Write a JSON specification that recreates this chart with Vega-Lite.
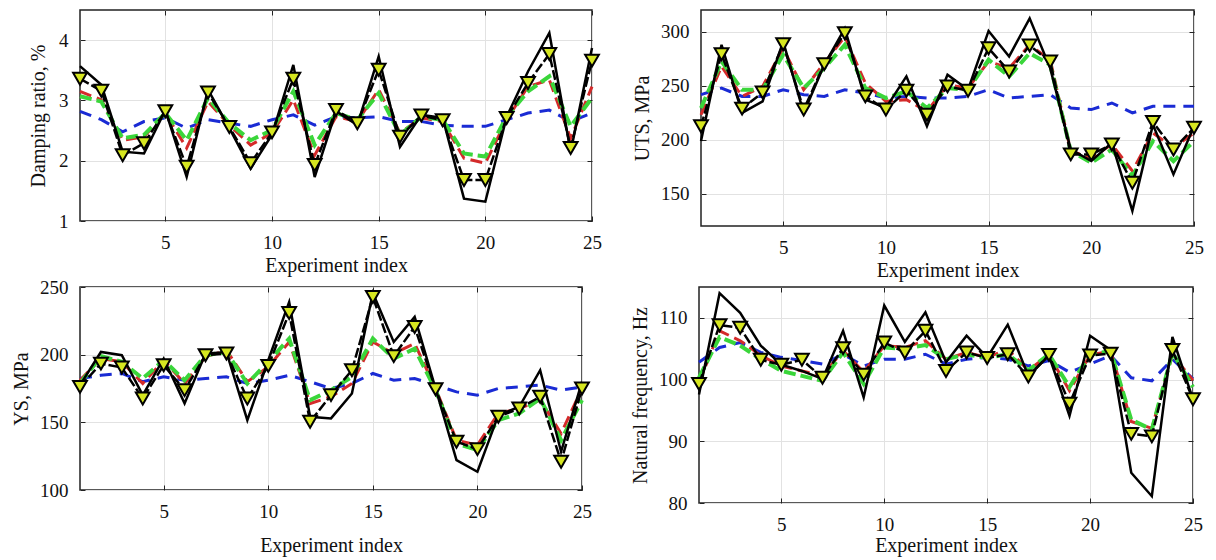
{
  "$schema": "https://vega.github.io/schema/vega-lite/v6.json",
  "padding": {"left": 10, "top": 8, "right": 5, "bottom": 5},
  "background": "white",
  "datasets": {
    "damping": [
      {"i":1,"solid":3.57,"tri":3.36,"red":3.15,"green":3.07,"blue":2.82},
      {"i":2,"solid":3.26,"tri":3.16,"red":3.01,"green":2.98,"blue":2.68},
      {"i":3,"solid":2.15,"tri":2.09,"red":2.34,"green":2.37,"blue":2.48},
      {"i":4,"solid":2.12,"tri":2.29,"red":2.40,"green":2.43,"blue":2.65},
      {"i":5,"solid":2.84,"tri":2.82,"red":2.79,"green":2.79,"blue":2.71},
      {"i":6,"solid":1.73,"tri":1.90,"red":2.21,"green":2.34,"blue":2.54},
      {"i":7,"solid":3.18,"tri":3.13,"red":2.98,"green":3.04,"blue":2.68},
      {"i":8,"solid":2.54,"tri":2.56,"red":2.59,"green":2.62,"blue":2.62},
      {"i":9,"solid":1.87,"tri":1.96,"red":2.26,"green":2.34,"blue":2.57},
      {"i":10,"solid":2.43,"tri":2.47,"red":2.46,"green":2.51,"blue":2.68},
      {"i":11,"solid":3.59,"tri":3.36,"red":3.01,"green":3.15,"blue":2.76},
      {"i":12,"solid":1.73,"tri":1.93,"red":2.09,"green":2.26,"blue":2.59},
      {"i":13,"solid":2.82,"tri":2.84,"red":2.73,"green":2.79,"blue":2.73},
      {"i":14,"solid":2.59,"tri":2.62,"red":2.65,"green":2.68,"blue":2.71},
      {"i":15,"solid":3.73,"tri":3.51,"red":3.18,"green":3.12,"blue":2.73},
      {"i":16,"solid":2.23,"tri":2.40,"red":2.46,"green":2.43,"blue":2.65},
      {"i":17,"solid":2.76,"tri":2.75,"red":2.71,"green":2.73,"blue":2.65},
      {"i":18,"solid":2.71,"tri":2.67,"red":2.65,"green":2.68,"blue":2.59},
      {"i":19,"solid":1.37,"tri":1.68,"red":2.04,"green":2.12,"blue":2.57},
      {"i":20,"solid":1.32,"tri":1.68,"red":1.96,"green":2.07,"blue":2.57},
      {"i":21,"solid":2.73,"tri":2.71,"red":2.68,"green":2.73,"blue":2.68},
      {"i":22,"solid":3.48,"tri":3.29,"red":3.23,"green":3.15,"blue":2.79},
      {"i":23,"solid":4.12,"tri":3.77,"red":3.34,"green":3.40,"blue":2.84},
      {"i":24,"solid":2.15,"tri":2.21,"red":2.37,"green":2.57,"blue":2.65},
      {"i":25,"solid":3.87,"tri":3.66,"red":3.23,"green":3.04,"blue":2.79}
    ],
    "uts": [
      {"i":1,"solid":198.6,"tri":212.4,"red":223,"green":229.3,"blue":241.6},
      {"i":2,"solid":287.7,"tri":279,"red":267.7,"green":272.3,"blue":247.7},
      {"i":3,"solid":224.7,"tri":228.7,"red":240,"green":246.2,"blue":240},
      {"i":4,"solid":235.4,"tri":243.7,"red":249.3,"green":246.2,"blue":240},
      {"i":5,"solid":290.8,"tri":288.3,"red":284.6,"green":278.5,"blue":246.2},
      {"i":6,"solid":224.7,"tri":227.8,"red":246.2,"green":247.7,"blue":241.6},
      {"i":7,"solid":269.3,"tri":269.9,"red":270.8,"green":266.2,"blue":240},
      {"i":8,"solid":303,"tri":298.5,"red":295.4,"green":287.7,"blue":246.2},
      {"i":9,"solid":237,"tri":240,"red":252.3,"green":247.7,"blue":243.1},
      {"i":10,"solid":229.3,"tri":227.8,"red":235.4,"green":238.5,"blue":238.5},
      {"i":11,"solid":258.5,"tri":245.3,"red":237,"green":244.7,"blue":240},
      {"i":12,"solid":212.4,"tri":223,"red":226.2,"green":229.3,"blue":238.5},
      {"i":13,"solid":260,"tri":249.3,"red":250.8,"green":247.7,"blue":238.5},
      {"i":14,"solid":246.2,"tri":245.3,"red":247.7,"green":246.2,"blue":240},
      {"i":15,"solid":300.6,"tri":284.6,"red":272.3,"green":273.9,"blue":246.2},
      {"i":16,"solid":277,"tri":263.1,"red":266.2,"green":258.5,"blue":238.5},
      {"i":17,"solid":312.3,"tri":287.1,"red":287.7,"green":280,"blue":240},
      {"i":18,"solid":266.2,"tri":272.3,"red":273.9,"green":269.3,"blue":241.6},
      {"i":19,"solid":190.9,"tri":186.3,"red":189.3,"green":189.3,"blue":229.3},
      {"i":20,"solid":180.1,"tri":186.3,"red":183.2,"green":178.6,"blue":227.8},
      {"i":21,"solid":197,"tri":195.5,"red":195.5,"green":190.9,"blue":233.9},
      {"i":22,"solid":134,"tri":160.1,"red":170.9,"green":166.3,"blue":224.7},
      {"i":23,"solid":213.9,"tri":216.4,"red":206.2,"green":198.6,"blue":230.8},
      {"i":24,"solid":167.8,"tri":190.9,"red":192.4,"green":180.1,"blue":230.8},
      {"i":25,"solid":212.4,"tri":210.9,"red":206.2,"green":198.6,"blue":230.8}
    ],
    "ys": [
      {"i":1,"solid":177.5,"tri":176.2,"red":181.1,"green":178.7,"blue":182.4},
      {"i":2,"solid":202,"tri":193.4,"red":197.1,"green":198.9,"blue":184.8},
      {"i":3,"solid":199.6,"tri":190.5,"red":194.7,"green":194.7,"blue":186.1},
      {"i":4,"solid":170.1,"tri":167.6,"red":178.7,"green":182.4,"blue":180},
      {"i":5,"solid":197.1,"tri":192.2,"red":195.9,"green":195.9,"blue":183.6},
      {"i":6,"solid":164,"tri":173.8,"red":178.7,"green":181.1,"blue":181.1},
      {"i":7,"solid":200.8,"tri":199.6,"red":198.4,"green":199.6,"blue":182.4},
      {"i":8,"solid":202,"tri":200.8,"red":203.3,"green":202,"blue":183.6},
      {"i":9,"solid":151.6,"tri":167.6,"red":180,"green":178.7,"blue":178.7},
      {"i":10,"solid":195.9,"tri":191.7,"red":191,"green":194.7,"blue":181.1},
      {"i":11,"solid":238.9,"tri":230.8,"red":209.4,"green":211.9,"blue":184.8},
      {"i":12,"solid":154.1,"tri":150.4,"red":163.9,"green":166.4,"blue":180},
      {"i":13,"solid":152.9,"tri":170.1,"red":168.9,"green":173.8,"blue":175},
      {"i":14,"solid":171.3,"tri":188.5,"red":178.7,"green":183.6,"blue":178.7},
      {"i":15,"solid":245.6,"tri":242.6,"red":209.4,"green":211.9,"blue":186.1},
      {"i":16,"solid":209.4,"tri":198.9,"red":200.8,"green":197.1,"blue":181.1},
      {"i":17,"solid":227.9,"tri":220.5,"red":208.2,"green":204.5,"blue":182.4},
      {"i":18,"solid":175,"tri":174.5,"red":175,"green":173.8,"blue":177.5},
      {"i":19,"solid":122.1,"tri":135.7,"red":136.9,"green":134.4,"blue":172.5},
      {"i":20,"solid":113.5,"tri":130.2,"red":133.2,"green":129.5,"blue":170.1},
      {"i":21,"solid":155.3,"tri":154.1,"red":156.6,"green":151.6,"blue":175},
      {"i":22,"solid":161.5,"tri":160.2,"red":160.2,"green":156.6,"blue":176.2},
      {"i":23,"solid":188.5,"tri":168.9,"red":166.4,"green":167.6,"blue":177.5},
      {"i":24,"solid":128.3,"tri":120.9,"red":141.8,"green":136.9,"blue":173.8},
      {"i":25,"solid":179.9,"tri":175,"red":175,"green":166.4,"blue":176.2}
    ],
    "nf": [
      {"i":1,"solid":97.6,"tri":99.3,"red":99.5,"green":100.3,"blue":102.8},
      {"i":2,"solid":114,"tri":108.8,"red":107.9,"green":106.9,"blue":105.2},
      {"i":3,"solid":110.8,"tri":108.4,"red":106.3,"green":105.5,"blue":106},
      {"i":4,"solid":105.5,"tri":103.2,"red":103.9,"green":103.3,"blue":104.4},
      {"i":5,"solid":102.4,"tri":102.4,"red":102.2,"green":101.4,"blue":103.6},
      {"i":6,"solid":101.4,"tri":103.2,"red":101.4,"green":100.6,"blue":103.1},
      {"i":7,"solid":100.1,"tri":100.3,"red":100.6,"green":99.8,"blue":102.5},
      {"i":8,"solid":107.9,"tri":105.1,"red":104.7,"green":104.4,"blue":104.1},
      {"i":9,"solid":97.1,"tri":100.8,"red":101.2,"green":99.3,"blue":102.2},
      {"i":10,"solid":112,"tri":106,"red":105.5,"green":105.2,"blue":103.3},
      {"i":11,"solid":106.1,"tri":104.4,"red":105.2,"green":105,"blue":103.3},
      {"i":12,"solid":110.9,"tri":107.9,"red":106.3,"green":105.6,"blue":104.1},
      {"i":13,"solid":102.8,"tri":101.4,"red":103.3,"green":103.3,"blue":102.5},
      {"i":14,"solid":107.1,"tri":104.4,"red":104.4,"green":104.1,"blue":103.3},
      {"i":15,"solid":103.6,"tri":103.5,"red":103.6,"green":103.5,"blue":103.6},
      {"i":16,"solid":108.9,"tri":104.1,"red":104.9,"green":104.1,"blue":103.3},
      {"i":17,"solid":100.6,"tri":100.5,"red":101.5,"green":101.5,"blue":102.2},
      {"i":18,"solid":103.9,"tri":104,"red":104,"green":104.1,"blue":103.1},
      {"i":19,"solid":94.1,"tri":96.1,"red":98.2,"green":98.8,"blue":101.2},
      {"i":20,"solid":107.1,"tri":103.9,"red":104,"green":104.1,"blue":102.5},
      {"i":21,"solid":104.8,"tri":104.2,"red":104.6,"green":104.6,"blue":103.9},
      {"i":22,"solid":84.9,"tri":91.2,"red":93.2,"green":93.5,"blue":100.3},
      {"i":23,"solid":81.1,"tri":90.8,"red":92.1,"green":91.9,"blue":99.8},
      {"i":24,"solid":106.9,"tri":104.8,"red":104,"green":104.4,"blue":103.3},
      {"i":25,"solid":96.8,"tri":96.8,"red":99.9,"green":98.8,"blue":100.1}
    ]
  },
  "vconcat": [
    {
      "hconcat": [
        {
          "width": 512, "height": 211,
          "data": {"name": "damping"},
          "resolve": {"axis": {"x": "independent", "y": "independent"}},
          "layer": [
            {"mark": {"type": "line", "color": "#1a2bd4", "strokeWidth": 3, "strokeDash": [12, 8]},
             "encoding": {
               "x": {"field": "i", "type": "quantitative", "scale": {"domain": [1, 25], "nice": false}, "axis": {"values": [5, 10, 15, 20, 25], "title": "Experiment index"}},
               "y": {"field": "blue", "type": "quantitative", "scale": {"domain": [1, 4.5], "nice": false, "zero": false}, "axis": {"values": [1, 2, 3, 4], "title": "Damping ratio, %", "titlePadding": 10}}}},
            {"mark": {"type": "line", "color": "#d42a2a", "strokeWidth": 3, "strokeDash": [12, 6]},
             "encoding": {
               "x": {"field": "i", "type": "quantitative", "axis": {"orient": "top", "values": [5, 10, 15, 20, 25], "labels": false, "title": null, "grid": false}},
               "y": {"field": "red", "type": "quantitative", "axis": {"orient": "right", "values": [1, 2, 3, 4], "labels": false, "title": null, "grid": false}}}},
            {"mark": {"type": "line", "color": "#3ad63a", "strokeWidth": 4, "strokeDash": [12, 5]},
             "encoding": {"x": {"field": "i", "type": "quantitative", "axis": null}, "y": {"field": "green", "type": "quantitative", "axis": null}}},
            {"mark": {"type": "line", "color": "#000000", "strokeWidth": 2.5},
             "encoding": {"x": {"field": "i", "type": "quantitative", "axis": null}, "y": {"field": "solid", "type": "quantitative", "axis": null}}},
            {"mark": {"type": "line", "color": "#000000", "strokeWidth": 2.5, "strokeDash": [10, 3]},
             "encoding": {"x": {"field": "i", "type": "quantitative", "axis": null}, "y": {"field": "tri", "type": "quantitative", "axis": null}}},
            {"mark": {"type": "point", "shape": "triangle-down", "filled": true, "fill": "#d6e620", "stroke": "#000000", "strokeWidth": 2, "size": 190, "opacity": 1},
             "encoding": {"x": {"field": "i", "type": "quantitative", "axis": null}, "y": {"field": "tri", "type": "quantitative", "axis": null}}}
          ]
        },
        {
          "width": 493, "height": 216,
          "data": {"name": "uts"},
          "resolve": {"axis": {"x": "independent", "y": "independent"}},
          "layer": [
            {"mark": {"type": "line", "color": "#1a2bd4", "strokeWidth": 3, "strokeDash": [12, 8]},
             "encoding": {
               "x": {"field": "i", "type": "quantitative", "scale": {"domain": [1, 25], "nice": false}, "axis": {"values": [5, 10, 15, 20, 25], "title": "Experiment index"}},
               "y": {"field": "blue", "type": "quantitative", "scale": {"domain": [120, 320], "nice": false, "zero": false}, "axis": {"values": [150, 200, 250, 300], "title": "UTS, MPa"}}}},
            {"mark": {"type": "line", "color": "#d42a2a", "strokeWidth": 3, "strokeDash": [12, 6]},
             "encoding": {
               "x": {"field": "i", "type": "quantitative", "axis": {"orient": "top", "values": [5, 10, 15, 20, 25], "labels": false, "title": null, "grid": false}},
               "y": {"field": "red", "type": "quantitative", "axis": {"orient": "right", "values": [150, 200, 250, 300], "labels": false, "title": null, "grid": false}}}},
            {"mark": {"type": "line", "color": "#3ad63a", "strokeWidth": 4, "strokeDash": [12, 5]},
             "encoding": {"x": {"field": "i", "type": "quantitative", "axis": null}, "y": {"field": "green", "type": "quantitative", "axis": null}}},
            {"mark": {"type": "line", "color": "#000000", "strokeWidth": 2.5},
             "encoding": {"x": {"field": "i", "type": "quantitative", "axis": null}, "y": {"field": "solid", "type": "quantitative", "axis": null}}},
            {"mark": {"type": "line", "color": "#000000", "strokeWidth": 2.5, "strokeDash": [10, 3]},
             "encoding": {"x": {"field": "i", "type": "quantitative", "axis": null}, "y": {"field": "tri", "type": "quantitative", "axis": null}}},
            {"mark": {"type": "point", "shape": "triangle-down", "filled": true, "fill": "#d6e620", "stroke": "#000000", "strokeWidth": 2, "size": 190, "opacity": 1},
             "encoding": {"x": {"field": "i", "type": "quantitative", "axis": null}, "y": {"field": "tri", "type": "quantitative", "axis": null}}}
          ]
        }
      ],
      "spacing": 27
    },
    {
      "hconcat": [
        {
          "width": 502, "height": 203,
          "data": {"name": "ys"},
          "resolve": {"axis": {"x": "independent", "y": "independent"}},
          "layer": [
            {"mark": {"type": "line", "color": "#1a2bd4", "strokeWidth": 3, "strokeDash": [12, 8]},
             "encoding": {
               "x": {"field": "i", "type": "quantitative", "scale": {"domain": [1, 25], "nice": false}, "axis": {"values": [5, 10, 15, 20, 25], "title": "Experiment index", "titlePadding": 14}},
               "y": {"field": "blue", "type": "quantitative", "scale": {"domain": [100, 250], "nice": false, "zero": false}, "axis": {"values": [100, 150, 200, 250], "title": "YS, MPa"}}}},
            {"mark": {"type": "line", "color": "#d42a2a", "strokeWidth": 3, "strokeDash": [12, 6]},
             "encoding": {
               "x": {"field": "i", "type": "quantitative", "axis": {"orient": "top", "values": [5, 10, 15, 20, 25], "labels": false, "title": null, "grid": false}},
               "y": {"field": "red", "type": "quantitative", "axis": {"orient": "right", "values": [100, 150, 200, 250], "labels": false, "title": null, "grid": false}}}},
            {"mark": {"type": "line", "color": "#3ad63a", "strokeWidth": 4, "strokeDash": [12, 5]},
             "encoding": {"x": {"field": "i", "type": "quantitative", "axis": null}, "y": {"field": "green", "type": "quantitative", "axis": null}}},
            {"mark": {"type": "line", "color": "#000000", "strokeWidth": 2.5},
             "encoding": {"x": {"field": "i", "type": "quantitative", "axis": null}, "y": {"field": "solid", "type": "quantitative", "axis": null}}},
            {"mark": {"type": "line", "color": "#000000", "strokeWidth": 2.5, "strokeDash": [10, 3]},
             "encoding": {"x": {"field": "i", "type": "quantitative", "axis": null}, "y": {"field": "tri", "type": "quantitative", "axis": null}}},
            {"mark": {"type": "point", "shape": "triangle-down", "filled": true, "fill": "#d6e620", "stroke": "#000000", "strokeWidth": 2, "size": 190, "opacity": 1},
             "encoding": {"x": {"field": "i", "type": "quantitative", "axis": null}, "y": {"field": "tri", "type": "quantitative", "axis": null}}}
          ]
        },
        {
          "width": 494, "height": 216,
          "data": {"name": "nf"},
          "resolve": {"axis": {"x": "independent", "y": "independent"}},
          "layer": [
            {"mark": {"type": "line", "color": "#1a2bd4", "strokeWidth": 3, "strokeDash": [12, 8]},
             "encoding": {
               "x": {"field": "i", "type": "quantitative", "scale": {"domain": [1, 25], "nice": false}, "axis": {"values": [5, 10, 15, 20, 25], "title": "Experiment index", "titlePadding": 1}},
               "y": {"field": "blue", "type": "quantitative", "scale": {"domain": [80, 115], "nice": false, "zero": false}, "axis": {"values": [80, 90, 100, 110], "title": "Natural frequency, Hz"}}}},
            {"mark": {"type": "line", "color": "#d42a2a", "strokeWidth": 3, "strokeDash": [12, 6]},
             "encoding": {
               "x": {"field": "i", "type": "quantitative", "axis": {"orient": "top", "values": [5, 10, 15, 20, 25], "labels": false, "title": null, "grid": false}},
               "y": {"field": "red", "type": "quantitative", "axis": {"orient": "right", "values": [80, 90, 100, 110], "labels": false, "title": null, "grid": false}}}},
            {"mark": {"type": "line", "color": "#3ad63a", "strokeWidth": 4, "strokeDash": [12, 5]},
             "encoding": {"x": {"field": "i", "type": "quantitative", "axis": null}, "y": {"field": "green", "type": "quantitative", "axis": null}}},
            {"mark": {"type": "line", "color": "#000000", "strokeWidth": 2.5},
             "encoding": {"x": {"field": "i", "type": "quantitative", "axis": null}, "y": {"field": "solid", "type": "quantitative", "axis": null}}},
            {"mark": {"type": "line", "color": "#000000", "strokeWidth": 2.5, "strokeDash": [10, 3]},
             "encoding": {"x": {"field": "i", "type": "quantitative", "axis": null}, "y": {"field": "tri", "type": "quantitative", "axis": null}}},
            {"mark": {"type": "point", "shape": "triangle-down", "filled": true, "fill": "#d6e620", "stroke": "#000000", "strokeWidth": 2, "size": 190, "opacity": 1},
             "encoding": {"x": {"field": "i", "type": "quantitative", "axis": null}, "y": {"field": "tri", "type": "quantitative", "axis": null}}}
          ]
        }
      ],
      "spacing": 35
    }
  ],
  "spacing": -4,
  "config": {
    "font": "Liberation Serif",
    "view": {"stroke": "#222222", "strokeWidth": 1.5},
    "axis": {
      "labelFont": "Liberation Serif", "titleFont": "Liberation Serif",
      "labelFontSize": 19, "titleFontSize": 20, "titleFontWeight": "normal",
      "labelColor": "#111111", "titleColor": "#111111",
      "domain": false, "tickColor": "#222222", "tickSize": -5, "tickWidth": 1,
      "gridColor": "#e2e2e2", "gridWidth": 1,
      "labelFlush": false, "labelOverlap": false
    },
    "axisX": {"labelPadding": 17, "titlePadding": 3},
    "axisY": {"labelPadding": 17, "titlePadding": 8}
  }
}
